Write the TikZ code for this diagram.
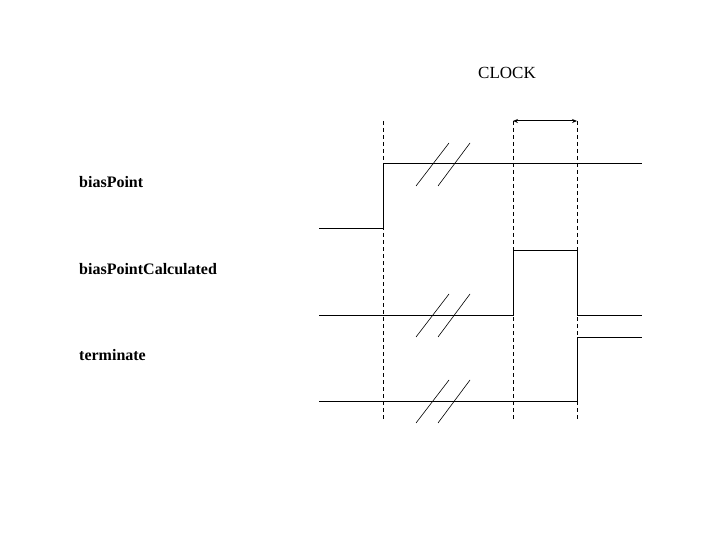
\documentclass[tikz,border=0pt]{standalone}
\usepackage{fontspec}
\setmainfont{Liberation Serif}
\usetikzlibrary{arrows.meta}
\begin{document}
\begin{tikzpicture}
[x=1pt,y=-1pt,
  labelDecorate/.style={anchor=west,inner sep=0pt,font=\fontsize{16}{19}\selectfont\bfseries},%
  titleDecorate/.style={inner sep=0pt,font=\fontsize{17}{20}\selectfont},%
  edgeDecorate/.style={dash pattern=on 4pt off 3pt,line width=0.8pt},%
  signalDecorate/.style={line width=1pt},%
  breakDecorate/.style={line width=0.6pt}]
\useasboundingbox (0,0) rectangle (720,540);
%% labels
\node (clock) at (507,73) [titleDecorate] {CLOCK};
\foreach \nodename/\y/\text in {
  bias/182/biasPoint, calc/269/biasPointCalculated, term/355/terminate}
{
  \node (\nodename) at (79,\y) [labelDecorate] {\text};
}
%% clock edges
\foreach \nodename/\x in {
  e0/383, e1/513, e2/577}
{
  \coordinate (\nodename top) at (\x,121);
  \coordinate (\nodename bot) at (\x,421);
  \draw[edgeDecorate] (\nodename top) -- (\nodename bot);
}
\draw[signalDecorate,{Stealth[length=5pt,width=4pt]}-{Stealth[length=5pt,width=4pt]}]
  (e1top) -- (e2top);
%% waveforms
\draw[signalDecorate] (319,229) -- (383,229) -- (383,164) -- (642,164);
\draw[signalDecorate] (319,315) -- (513,315) -- (513,250) -- (577,250)
  -- (577,315) -- (642,315);
\draw[signalDecorate] (319,401) -- (577,401) -- (577,337) -- (642,337);
%% breaks
\foreach \y in {186, 337, 423}
{
  \draw[breakDecorate] (416,\y) -- ++(33,-43);
  \draw[breakDecorate] (438,\y) -- ++(32,-43);
}
\end{tikzpicture}
\end{document}
